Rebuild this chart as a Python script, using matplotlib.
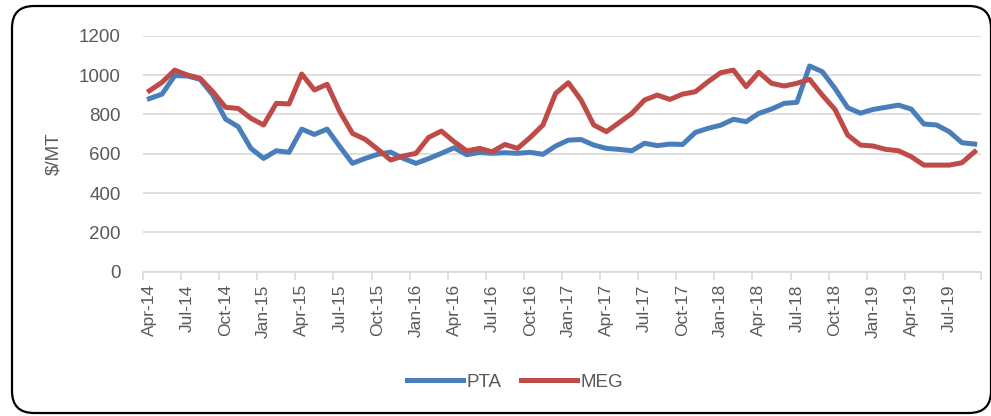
import numpy as np
import matplotlib
matplotlib.use("Agg")
import matplotlib.pyplot as plt
from matplotlib.patches import FancyBboxPatch

# monthly prices, Apr-14 .. Sep-19 ($/MT)
pta = [880, 903, 997, 995, 978, 898, 776, 737, 627, 576, 615, 607,
       725, 698, 725, 636, 551, 576, 597, 608, 576, 551, 575, 602,
       630, 595, 606, 602, 605, 602, 607, 597, 639, 669, 672, 644,
       627, 622, 615, 653, 641, 649, 647, 708, 729, 745, 775, 763,
       805, 827, 856, 861, 1046, 1017, 932, 834, 806, 825, 836, 847,
       827, 751, 746, 712, 656, 649]
meg = [920, 963, 1025, 1000, 983, 915, 836, 830, 780, 746, 856, 853,
       1005, 924, 953, 814, 703, 673, 622, 568, 588, 602, 683, 715,
       661, 614, 627, 610, 647, 627, 683, 746, 907, 961, 873, 746,
       712, 758, 805, 873, 898, 876, 903, 915, 966, 1012, 1025, 941,
       1014, 958, 944, 958, 978, 898, 825, 695, 644, 639, 622, 615,
       585, 542, 542, 542, 554, 610]
tick_labels = ["Apr-14", "Jul-14", "Oct-14", "Jan-15", "Apr-15", "Jul-15",
               "Oct-15", "Jan-16", "Apr-16", "Jul-16", "Oct-16", "Jan-17",
               "Apr-17", "Jul-17", "Oct-17", "Jan-18", "Apr-18", "Jul-18",
               "Oct-18", "Jan-19", "Apr-19", "Jul-19"]
y_ticks = [0, 200, 400, 600, 800, 1000, 1200]

plt.rcParams['font.family'] = ['Liberation Sans', 'DejaVu Sans']
grey = '#595959'
grid_c = '#D9D9D9'

fig = plt.figure(figsize=(9.91, 4.16), dpi=100)

# outer frame + clipped title (drawn in pixel coords)
bg = fig.add_axes([0, 0, 1, 1])
bg.set_xlim(0, 991)
bg.set_ylim(416, 0)
bg.axis('off')
frame = FancyBboxPatch((12, 6), 979, 407, boxstyle="round,pad=0,rounding_size=22",
                       fill=False, edgecolor='black', linewidth=1.6)
bg.add_patch(frame)
bg.text(63, -8, "Figure: Trend in prices of PTA and MEG", color='#2F5597',
        fontsize=13, fontweight='bold', va='center', ha='left')

ax = fig.add_axes([143 / 991, 1 - 271.7 / 416, 838 / 991, 236 / 416])
x = np.arange(len(pta))
ax.plot(x, pta, color='#4A7EBB', linewidth=3.6, label='PTA', solid_joinstyle='round')
ax.plot(x, meg, color='#BE4B48', linewidth=3.6, label='MEG', solid_joinstyle='round')

ax.set_xlim(-0.5, len(pta) - 0.5)
ax.set_ylim(0, 1200)
ax.set_yticks(y_ticks)
ax.set_yticklabels([str(v) for v in y_ticks], fontsize=13.5, color=grey)
ax.tick_params(axis='y', length=0, pad=16)

# labels sit on the month, tick marks on month boundaries
ax.set_xticks(np.arange(len(tick_labels)) * 3)
ax.set_xticklabels(tick_labels, rotation=90, fontsize=12.5, color=grey)
ax.tick_params(axis='x', which='major', length=0, pad=9)
ax.set_xticks(np.arange(len(tick_labels) + 1) * 3 - 0.5, minor=True)
ax.tick_params(axis='x', which='minor', length=6, color=grid_c, width=1.2)

ax.grid(axis='y', color=grid_c, linewidth=1.2)
ax.set_axisbelow(True)
for s in ['top', 'right', 'left']:
    ax.spines[s].set_visible(False)
ax.spines['bottom'].set_color(grid_c)
ax.spines['bottom'].set_linewidth(1.2)

ax.set_ylabel("$/MT", fontsize=13.5, color=grey, labelpad=12)

fig.legend(loc='center', bbox_to_anchor=(515 / 991, 1 - 382 / 416), ncol=2,
           frameon=False, fontsize=13.5, handlelength=3.0, columnspacing=1.0,
           handletextpad=0.2, labelcolor=grey)

fig.savefig("out.png", dpi=100)
